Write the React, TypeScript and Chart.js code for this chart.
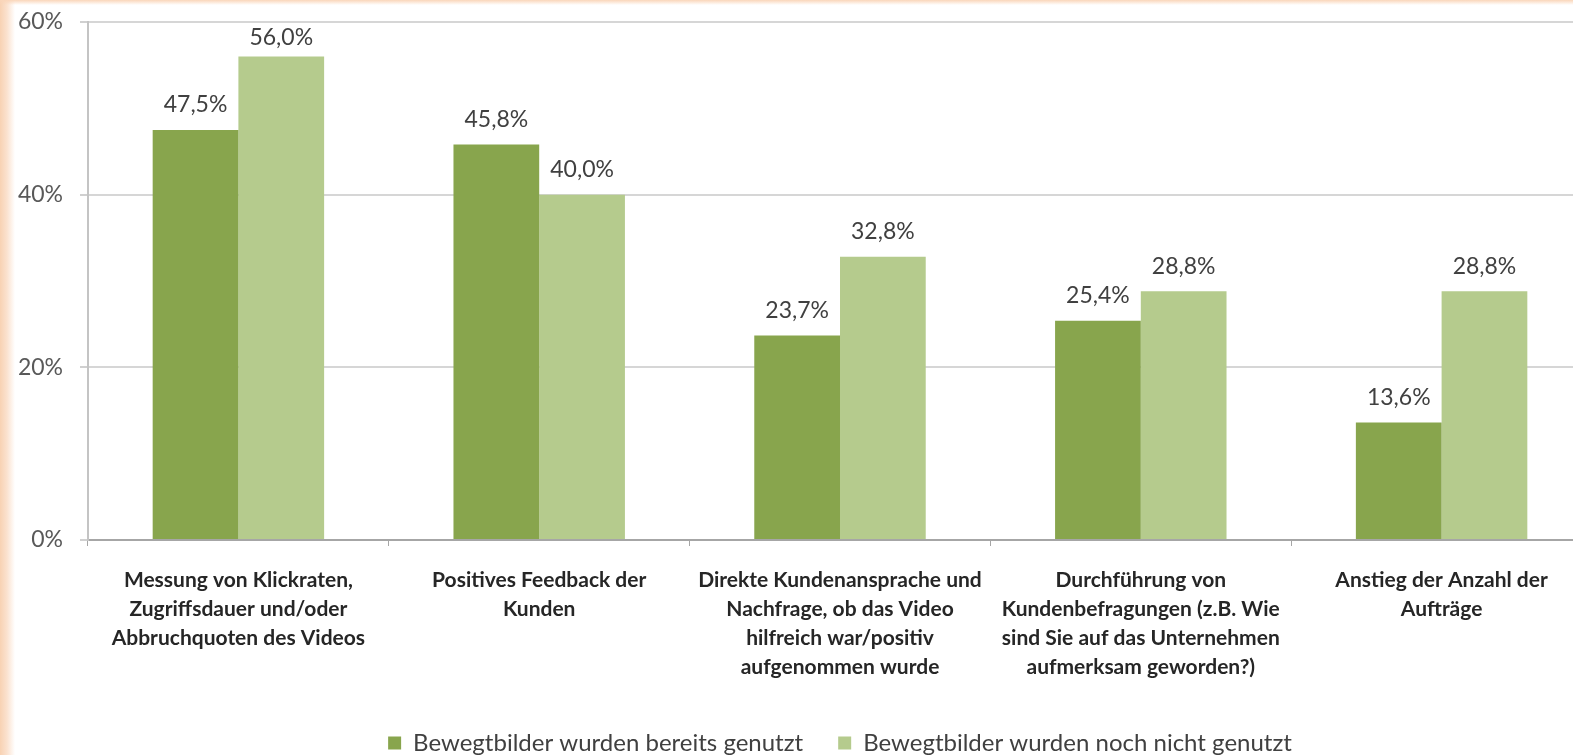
import React, { useEffect, useRef } from "react";
import { Chart, registerables } from "chart.js";

Chart.register(...registerables);

const categories: string[][] = [
  ["Messung von Klickraten,", "Zugriffsdauer und/oder", "Abbruchquoten des Videos"],
  ["Positives Feedback der", "Kunden"],
  ["Direkte Kundenansprache und", "Nachfrage, ob das Video", "hilfreich war/positiv", "aufgenommen wurde"],
  ["Durchführung von", "Kundenbefragungen (z.B. Wie", "sind Sie auf das Unternehmen", "aufmerksam geworden?)"],
  ["Anstieg der Anzahl der", "Aufträge"],
];
const seriesNames = ["Bewegtbilder wurden bereits genutzt", "Bewegtbilder wurden noch nicht genutzt"];
const usedValues = [47.5, 45.8, 23.7, 25.4, 13.6];
const notUsedValues = [56.0, 40.0, 32.8, 28.8, 28.8];
const yMin = 0;
const yMax = 60;
const yStep = 20;

const fmt = (v: number) => v.toFixed(1).replace(".", ",") + "%";

const valueLabelPlugin = {
  id: "valueLabels",
  afterDatasetsDraw(chart: any) {
    const ctx = chart.ctx;
    ctx.save();
    ctx.font = "23px Lato";
    ctx.fillStyle = "#404040";
    ctx.textAlign = "center";
    ctx.textBaseline = "middle";
    chart.data.datasets.forEach((ds: any, di: number) => {
      const meta = chart.getDatasetMeta(di);
      meta.data.forEach((bar: any, i: number) => {
        const v = ds.data[i] as number;
        const y = Math.max(bar.y - 25, chart.chartArea.top + 16);
        ctx.fillText(fmt(v), bar.x, y);
      });
    });
    ctx.restore();
  },
};

// Centre the legend under the plot area and place it near the bottom edge
const legendPlacePlugin = {
  id: "legendPlace",
  afterLayout(chart: any) {
    const lg = chart.legend;
    if (!lg) return;
    const ca = chart.chartArea;
    lg.left = ca.left;
    lg.right = ca.right;
    lg.width = ca.right - ca.left;
    const h = lg.height;
    lg.top = chart.height - h + 10;
    lg.bottom = lg.top + h;
  },
};

export default function App() {
  const canvasRef = useRef<HTMLCanvasElement | null>(null);

  useEffect(() => {
    const canvas = canvasRef.current;
    if (!canvas) return;
    const chart = new Chart(canvas, {
      type: "bar",
      data: {
        labels: categories,
        datasets: [
          {
            label: seriesNames[0],
            data: usedValues,
            backgroundColor: "#88a54d",
            borderWidth: 0,
            categoryPercentage: 0.57,
            barPercentage: 1.0,
          },
          {
            label: seriesNames[1],
            data: notUsedValues,
            backgroundColor: "#b5cb8d",
            borderWidth: 0,
            categoryPercentage: 0.57,
            barPercentage: 1.0,
          },
        ],
      },
      options: {
        animation: false,
        responsive: false,
        maintainAspectRatio: false,
        layout: { padding: { top: 22, left: 0, right: 0, bottom: 0 } },
        plugins: {
          tooltip: { enabled: false },
          legend: {
            position: "bottom",
            labels: {
              boxWidth: 13,
              boxHeight: 13,
              padding: 35,
              color: "#404040",
              font: { family: "Lato", size: 24 },
            },
          },
        },
        scales: {
          x: {
            grid: {
              offset: true,
              drawOnChartArea: false,
              drawTicks: true,
              tickLength: 6,
              tickColor: "#a6a6a6",
            },
            border: { display: true, color: "#a6a6a6", width: 2 },
            ticks: {
              color: "#262626",
              padding: 20,
              maxRotation: 0,
              autoSkip: false,
              font: { family: "Lato", size: 21, weight: "bold", lineHeight: "29px" },
            },
            afterFit: (scale: any) => {
              scale.height = 146;
            },
          },
          y: {
            min: yMin,
            max: yMax,
            ticks: {
              stepSize: yStep,
              color: "#595959",
              padding: 17,
              font: { family: "Lato", size: 23 },
              callback: (v: any) => v + "%",
            },
            grid: {
              color: "#d6d6d6",
              lineWidth: 2,
              tickLength: 8,
              tickColor: "#d0d0d0",
            },
            border: { display: true, color: "#c4c4c4", width: 2 },
            afterFit: (scale: any) => {
              scale.width = 88;
              scale.paddingTop = 0;
              scale.paddingBottom = 0;
            },
          },
        },
      },
      plugins: [valueLabelPlugin, legendPlacePlugin],
    } as any);
    return () => chart.destroy();
  }, []);

  return (
    <div
      style={{
        position: "fixed",
        left: 0,
        top: 0,
        width: 1573,
        height: 755,
        overflow: "hidden",
        background:
          "linear-gradient(to bottom, rgba(250,214,186,1) 0px, rgba(255,255,255,0) 5px), linear-gradient(to right, #f8d2b3 0px, #fbe2cf 7px, #ffffff 15px)",
      }}
    >
      <canvas
        ref={canvasRef}
        width={1592}
        height={755}
        style={{ position: "absolute", left: 0, top: 0, width: 1592, height: 755 }}
      />
    </div>
  );
}
